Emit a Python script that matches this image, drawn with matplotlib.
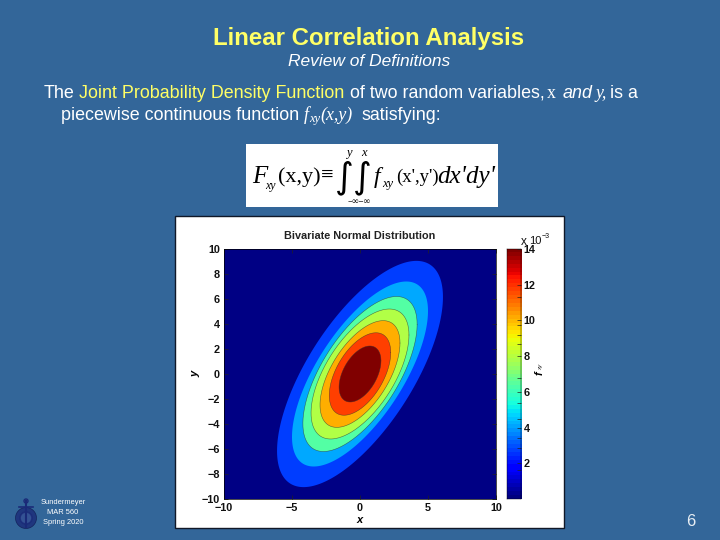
import numpy as np
import matplotlib
matplotlib.use('Agg')
import matplotlib.pyplot as plt
from matplotlib.patches import Rectangle, Circle

# contour rings, outermost first
ring_x = [6.1, 5.0, 4.2, 3.6, 2.94, 2.26, 1.54]
ring_y = [9.05, 7.4, 6.2, 5.2, 4.27, 3.3, 2.24]
ring_r = [0.68, 0.68, 0.64, 0.60, 0.58, 0.52, 0.47]
ring_values = [2.6e-3, 4.1e-3, 6.3e-3, 7.9e-3, 10.15e-3, 11.8e-3, 14.0e-3]
background_value = 0.1e-3
ticks = [-10, -5, 0, 5, 10]
yticks = [-10, -8, -6, -4, -2, 0, 2, 4, 6, 8, 10]
cb_ticks = [2, 4, 6, 8, 10, 12, 14]
cb_minor = [1.6, 2.86, 3.4, 4.5, 5.4, 6.8, 8.66, 9.2, 9.74, 11.3]

BG = '#336699'
YEL = '#FFFF66'
WHITE = '#FFFFFF'
SANS = 'Liberation Sans'
SERIF = 'Liberation Serif'
W, H = 720, 540
BODY = 12.9


def px_axes(fig, x0, y0, x1, y1):
    return fig.add_axes([x0 / W, 1 - y1 / H, (x1 - x0) / W, (y1 - y0) / H])


fig = plt.figure(figsize=(7.2, 5.4), dpi=100, facecolor=BG)

# slide layer in pixel coordinates
bg = fig.add_axes([0, 0, 1, 1])
bg.set_xlim(0, W)
bg.set_ylim(H, 0)
bg.axis('off')

bg.text(369, 38.5, 'Linear Correlation Analysis', color=YEL, fontsize=17.3, family=SANS,
        weight='bold', ha='center', va='center')
bg.text(369, 61, 'Review of Definitions', color=WHITE, fontsize=12.5, family=SANS,
        style='italic', ha='center', va='center')

# body text, first line
line1 = [(44, 'The', WHITE, SANS, 'normal'),
         (79, 'Joint Probability Density Function', YEL, SANS, 'normal'),
         (350, 'of two random variables,', WHITE, SANS, 'normal'),
         (547, 'x', WHITE, SERIF, 'normal'),
         (563, 'and', WHITE, SANS, 'italic'),
         (595, 'y,', WHITE, SERIF, 'italic'),
         (610, 'is a', WHITE, SANS, 'normal')]
for x, s, c, fam, st in line1:
    bg.text(x, 93, s, color=c, fontsize=BODY, family=fam, style=st, ha='left', va='center')

# second line
bg.text(61, 115.5, 'piecewise continuous function', color=WHITE, fontsize=BODY, family=SANS,
        ha='left', va='center')
bg.text(304, 115.5, 'f', color=WHITE, fontsize=BODY, family=SERIF, style='italic', ha='left', va='center')
bg.text(309, 119, 'xy', color=WHITE, fontsize=9, family=SERIF, style='italic', ha='left', va='center')
bg.text(320, 115.5, '(x,y)', color=WHITE, fontsize=BODY, family=SERIF, style='italic', ha='left', va='center')
bg.text(361, 115.5, 'satisfying:', color=WHITE, fontsize=BODY, family=SANS, ha='left', va='center')

# equation box
bg.add_patch(Rectangle((246, 144), 252, 63, fc='white', ec='none'))
eq_font = dict(color='black', family=SERIF, va='center')
bg.text(252, 177, 'F', fontsize=18, style='italic', **eq_font)
bg.text(265, 186, 'xy', fontsize=8.5, style='italic', **eq_font)
bg.text(278, 177, '(x,y)', fontsize=16, **eq_font)
bg.text(321, 176, '\u2261', fontsize=16, **eq_font)
bg.text(344, 178, '\u222b', fontsize=26, ha='center', family='DejaVu Sans', color='black', va='center')
bg.text(362, 178, '\u222b', fontsize=26, ha='center', family='DejaVu Sans', color='black', va='center')
bg.text(349, 153, 'y', fontsize=9, style='italic', ha='center', **eq_font)
bg.text(364, 153, 'x', fontsize=9, style='italic', ha='center', **eq_font)
bg.text(359, 202, '\u2212\u221e\u2212\u221e', fontsize=6.5, ha='center', **eq_font)
bg.text(374, 177, 'f', fontsize=17, style='italic', **eq_font)
bg.text(382, 184, 'xy', fontsize=9, style='italic', **eq_font)
bg.text(396, 177, "(x',y')", fontsize=13.5, **eq_font)
bg.text(437, 177, "dx'dy'", fontsize=18, style='italic', **eq_font)

# white panel behind the plot
bg.add_patch(Rectangle((175, 216), 389, 312, fc='white', ec='#101828', lw=1))

# footer
for y, s in [(503, 'Sundermeyer'), (513, 'MAR 560'), (523, 'Spring 2020')]:
    bg.text(63, y, s, color=WHITE, fontsize=5.4, family=SANS, ha='center', va='center')
bg.text(691, 521, '6', color='#E8EEF4', fontsize=12, family=SANS, ha='center', va='center')

# crest
navy = '#1A2A78'
bg.add_patch(Circle((26, 518), 10.5, fc=navy, ec='#0E1A50', lw=0.5, alpha=0.8))
bg.add_patch(Circle((26, 518), 6, fc='#3A5A9A', ec=navy, lw=1.2, alpha=0.8))
bg.plot([26, 26], [501, 527], color=navy, lw=1.5)
bg.plot([19, 33], [507, 507], color=navy, lw=1.2)
bg.add_patch(Circle((26, 501), 2, fc='none', ec=navy, lw=1))

cmap = plt.get_cmap('jet')
norm = plt.Normalize(0, 14e-3)
ax = px_axes(fig, 224, 249, 496, 499)
ax.set_facecolor(cmap(norm(background_value)))
t = np.linspace(0, 2 * np.pi, 361)
for i in range(len(ring_x)):
    rx = ring_x[i] * np.cos(t)
    ry = ring_y[i] * (ring_r[i] * np.cos(t) + np.sqrt(1 - ring_r[i] ** 2) * np.sin(t))
    ax.fill(rx, ry, color=cmap(norm(ring_values[i])), lw=0, zorder=2 + i)
    if i >= 2:
        # thin dark outlines on the inner rings only
        ax.plot(rx, ry, color='#333333', lw=0.4, alpha=0.7, zorder=2 + i)
ax.set_xlim(-10, 10)
ax.set_ylim(-10, 10)
ax.set_xticks(ticks)
ax.set_yticks(yticks)
ax.set_xticklabels([str(v).replace('-', '\u2212') for v in ticks])
ax.set_yticklabels([str(v).replace('-', '\u2212') for v in yticks])
ax.tick_params(direction='in', top=True, right=True, length=3, width=0.5, color='#222222',
               labelsize=7.8, pad=3, labelcolor='#111111')
for lab in ax.get_xticklabels() + ax.get_yticklabels():
    lab.set_family(SANS)
    lab.set_weight('bold')
for s in ax.spines.values():
    s.set_linewidth(0.5)
    s.set_zorder(20)
ax.set_title('Bivariate Normal Distribution', fontsize=7.8, family=SANS, weight='bold',
             color='#222222', pad=7)
ax.set_xlabel('x', fontsize=8, family=SANS, weight='bold', style='italic', labelpad=1)
ax.set_ylabel('y', fontsize=8, family=SANS, weight='bold', style='italic', labelpad=1)

# colourbar
cax = px_axes(fig, 507, 249, 521, 499)
grad = np.linspace(0, 14, 64).reshape(-1, 1)
cax.imshow(grad, origin='lower', extent=[0, 1, 0, 14], aspect='auto', cmap='jet')
cax.set_xticks([])
cax.yaxis.tick_right()
cax.set_yticks(cb_ticks)
cax.set_yticks(cb_minor, minor=True)
cax.tick_params(which='major', direction='in', length=3, width=0.5, color='#222222',
                labelsize=7.8, pad=2, labelcolor='#111111')
cax.tick_params(which='minor', direction='in', length=3, width=0.5, color='#222222')
for lab in cax.get_yticklabels():
    lab.set_family(SANS)
    lab.set_weight('bold')
for s in cax.spines.values():
    s.set_linewidth(0.3)
top = fig.add_axes([0, 0, 1, 1], facecolor='none')
top.set_xlim(0, W)
top.set_ylim(H, 0)
top.axis('off')
top.text(521, 242, 'x', fontsize=8.5, family=SANS, ha='left', va='center', color='#111111')
top.text(529, 241, '10', fontsize=8, family=SANS, ha='left', va='center', color='#111111')
top.text(542, 236, '\u22123', fontsize=5, family=SANS, ha='left', va='center', color='#111111')
top.text(540, 375, 'f', fontsize=8, family=SANS, weight='bold', style='italic', rotation=90,
         ha='center', va='bottom')
top.text(541, 370, 'xy', fontsize=4.5, family=SANS, style='italic', rotation=90, ha='center', va='bottom',
         color='#333333')

fig.savefig('out.png', dpi=100, facecolor=BG)
